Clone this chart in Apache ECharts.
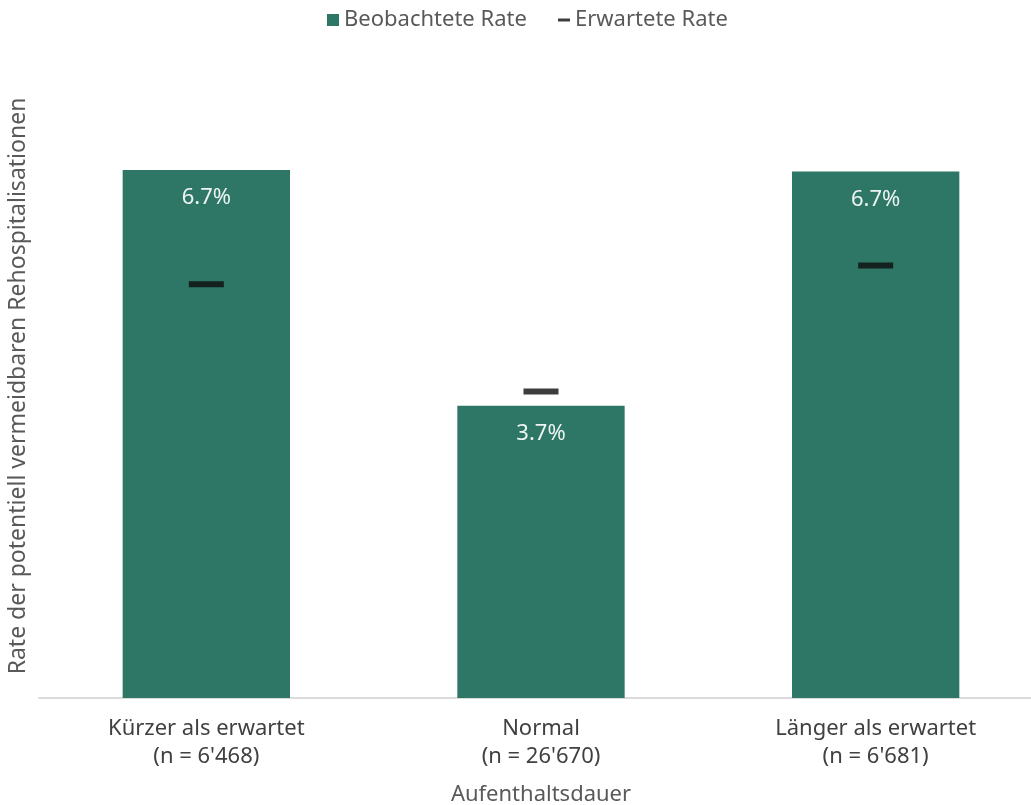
<!DOCTYPE html>
<html>
<head>
<meta charset="utf-8">
<script src="https://cdn.jsdelivr.net/npm/echarts@6/dist/echarts.min.js"></script>
<style>html,body{margin:0;padding:0;background:#fff}#c{width:1031px;height:805px}</style>
</head>
<body>
<div id="c"></div>
<script>
const categories = ["Kürzer als erwartet\n(n = 6'468)", "Normal\n(n = 26'670)", "Länger als erwartet\n(n = 6'681)"];
const observedRate = [6.70, 3.71, 6.68];
const expectedRate = [5.25, 3.89, 5.49];
const seriesNames = ["Beobachtete Rate", "Erwartete Rate"];
const xAxisTitle = "Aufenthaltsdauer";
const yAxisTitle = "Rate der potentiell vermeidbaren Rehospitalisationen";

const FONT = "Noto Sans";
const chart = echarts.init(document.getElementById('c'));
chart.setOption({
  animation: false,
  textStyle: { fontFamily: FONT },
  legend: [
    { data: [seriesNames[0]], left: 322, top: 4, icon: 'rect', itemWidth: 12, itemHeight: 12, itemGap: 6,
      textStyle: { fontSize: 22, color: '#595959', fontFamily: FONT } },
    { data: [seriesNames[1]], left: 553, top: 4, icon: 'rect', itemWidth: 12, itemHeight: 3, itemGap: 6,
      textStyle: { fontSize: 22, color: '#595959', fontFamily: FONT } }
  ],
  grid: { left: 39, right: -12, top: 146.4, bottom: 107, containLabel: false, outerBoundsMode: 'none' },
  xAxis: {
    type: 'category', data: categories,
    name: xAxisTitle, nameLocation: 'middle', nameGap: 86,
    nameTextStyle: { fontSize: 22, color: '#595959', fontFamily: FONT },
    axisLine: { lineStyle: { color: '#d0d0d0', width: 1.5 } },
    axisTick: { show: false },
    axisLabel: { fontSize: 22, color: '#404040', lineHeight: 28, margin: 17, fontFamily: FONT }
  },
  yAxis: {
    type: 'value', min: 0, max: 7,
    axisLabel: { show: false }, splitLine: { show: false }, axisLine: { show: false }, axisTick: { show: false }
  },
  graphic: [{
    type: 'text', x: 7, y: 386, rotation: Math.PI / 2,
    style: { text: yAxisTitle, fontSize: 23, fill: '#595959', fontFamily: FONT, align: 'center', verticalAlign: 'top' }
  }],
  series: [
    { name: seriesNames[0], type: 'bar', data: observedRate, barWidth: '50%',
      itemStyle: { color: '#2E7767' },
      label: { show: true, position: 'insideTop', distance: 17, fontSize: 22, color: '#eef4f1', fontFamily: FONT,
        formatter: p => p.value.toFixed(1) + '%' } },
    { name: seriesNames[1], type: 'scatter', data: expectedRate, symbol: 'rect', symbolSize: [35, 6],
      itemStyle: { color: '#0d0d0d' }, z: 5 }
  ]
});
</script>
</body>
</html>
